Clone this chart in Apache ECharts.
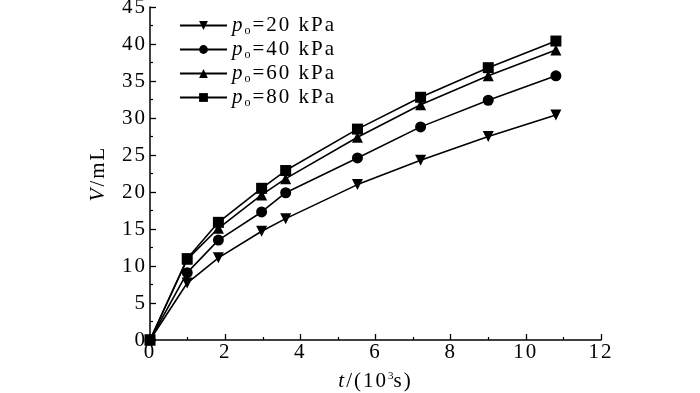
<!DOCTYPE html>
<html><head><meta charset="utf-8">
<script src="https://cdn.jsdelivr.net/npm/echarts@6/dist/echarts.min.js"></script>
<style>html,body{margin:0;padding:0;background:#fff}#c{width:700px;height:393px}</style>
</head><body><div id="c"></div>
<script>
const tValues = [0, 0.99, 1.82, 2.97, 3.61, 5.52, 7.2, 9.0, 10.8];
const v20 = [0, 7.7, 11.1, 14.7, 16.4, 21.0, 24.3, 27.5, 30.4];
const v40 = [0, 9.1, 13.5, 17.3, 19.9, 24.6, 28.8, 32.4, 35.7];
const v60 = [0, 10.9, 15.1, 19.6, 21.8, 27.4, 31.8, 35.7, 39.2];
const v80 = [0, 11.0, 15.9, 20.5, 22.9, 28.5, 32.8, 36.8, 40.4];
const seriesNames = ['20', '40', '60', '80'];
const xTicks = {min: 0, max: 12, interval: 2};
const yTicks = {min: 0, max: 45, interval: 5};

const FONT = '"Liberation Serif","Times New Roman",serif';
const FS = 21;
const SP = 2;
const symbols = ['path://M0,0 L10,0 L5,9 Z', 'circle', 'triangle', 'rect'];
const allData = [v20, v40, v60, v80];

function spaced(str, st) {
  return str.split('').map(c => '{' + st + '|' + c + '}').join('');
}
const baseRich = {
  n: {fontFamily: FONT, fontSize: FS, color: '#000', padding: [0, SP, 0, 0]},
  i: {fontFamily: FONT, fontSize: FS, fontStyle: 'italic', color: '#000', padding: [0, SP, 0, 0]},
  s: {fontFamily: FONT, fontSize: 12, color: '#000', padding: [11, SP, 0, 0]},
  u: {fontFamily: FONT, fontSize: 11, color: '#000', padding: [0, 0, 10, 0]}
};

const series = allData.map((vals, i) => ({
  name: seriesNames[i],
  type: 'line',
  data: tValues.map((t, k) => [t, vals[k]]),
  symbol: symbols[i],
  symbolSize: 11,
  showAllSymbol: true,
  lineStyle: {color: '#000', width: 1.6},
  itemStyle: {color: '#000'},
  z: 3 + i
}));

const chart = echarts.init(document.getElementById('c'), null, {renderer: 'canvas'});
chart.setOption({
  animation: false,
  backgroundColor: '#fff',
  grid: {left: 150, right: 99, top: 7, bottom: 53, containLabel: false, outerBoundsMode: 'none'},
  legend: {
    orient: 'vertical',
    left: 174, top: 10,
    itemWidth: 47, itemHeight: 11,
    itemGap: 2,
    textStyle: {fontFamily: FONT, fontSize: FS, color: '#000', rich: baseRich},
    formatter: name => '{i|p}{s|o}' + spaced('=' + name + ' kPa', 'n'),
    data: seriesNames
  },
  xAxis: {
    type: 'value', min: xTicks.min, max: xTicks.max, interval: xTicks.interval,
    name: '{i|t}' + spaced('/(10', 'n') + '{u|3}' + spaced('s)', 'n'),
    nameLocation: 'middle', nameGap: 31,
    nameTextStyle: {rich: baseRich},
    axisLine: {lineStyle: {color: '#000', width: 1.5}},
    axisTick: {inside: true, length: 6, lineStyle: {color: '#000', width: 1.3}},
    minorTick: {show: true, splitNumber: 2, length: 3, lineStyle: {color: '#000', width: 1.2}},
    axisLabel: {formatter: v => spaced(String(v), 'n'), rich: baseRich, margin: 2},
    splitLine: {show: false}
  },
  yAxis: {
    type: 'value', min: yTicks.min, max: yTicks.max, interval: yTicks.interval,
    name: '{i|V}' + spaced('/mL', 'n'),
    nameLocation: 'middle', nameGap: 41, nameRotate: 90,
    nameTextStyle: {rich: baseRich},
    axisLine: {show: true, lineStyle: {color: '#000', width: 1.5}},
    axisTick: {show: true, inside: true, length: 6, lineStyle: {color: '#000', width: 1.3}},
    minorTick: {show: true, splitNumber: 2, length: 3, lineStyle: {color: '#000', width: 1.2}},
    axisLabel: {formatter: v => spaced(String(v), 'n'), rich: baseRich, margin: 3},
    splitLine: {show: false}
  },
  series: series
});
</script></body></html>
